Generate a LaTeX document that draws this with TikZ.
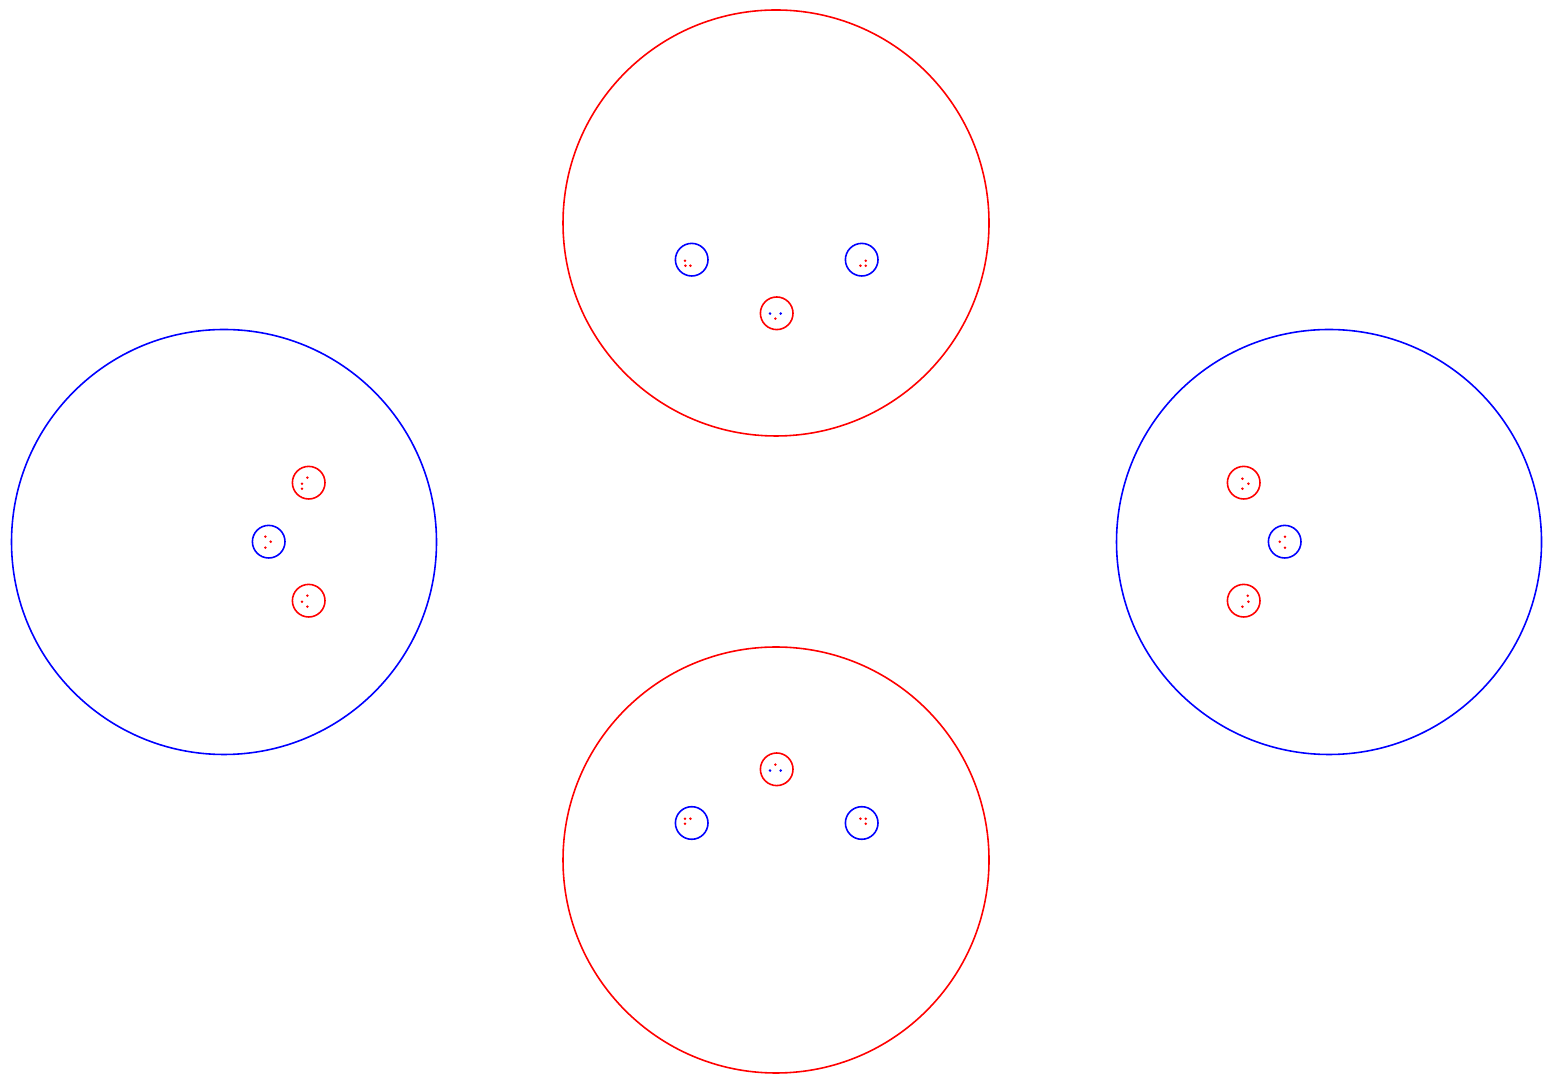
\documentclass[tikz,border=0pt]{standalone}
\usetikzlibrary{positioning,calc}
\begin{document}
\begin{tikzpicture}[x=0.01cm, y=-0.01cm,
    bigring/.style={line width=0.45pt},
    smallring/.style={line width=0.45pt},
    spot/.style={radius=1.4}]
  \useasboundingbox (0,0) rectangle (1543,1077);
  % outer rings
  \coordinate (top) at (776,223);
  \coordinate (bot) at (776,860);
  \coordinate (lft) at (224,542);
  \coordinate (rgt) at (1329,542);
  \draw[bigring, red] (top) circle[radius=213];
  \draw[bigring, red] (bot) circle[radius=213];
  \draw[bigring, blue] (lft) circle[radius=212.5];
  \draw[bigring, blue] (rgt) circle[radius=212.5];
  % inner rings: x/y/ring colour/name
  \foreach \x/\y/\c/\n in {691.7/259.7/blue/ta, 861.7/259.7/blue/tb, 776.7/313.3/red/tc,
      776.7/769.3/red/ba, 691.7/823/blue/bb, 861.7/823/blue/bc,
      308.7/482.7/red/la, 268.7/541.7/blue/lb, 308.7/600.7/red/lc,
      1243.7/482.7/red/ra, 1284.7/541.7/blue/rb, 1243.7/600.7/red/rc}{
    \coordinate (\n) at (\x,\y);
    \draw[smallring, \c] (\n) circle[radius=16.3];
  }
  % dots inside the inner rings
  \foreach \n/\dx/\dy/\c in {
      ta/-6.7/1/red, ta/-6.3/6/red, ta/-1.3/6/red,
      tb/4/1/red, tb/-1.3/6/red, tb/4/6/red,
      tc/-6.7/0.3/blue, tc/4/0.3/blue, tc/-1.3/5.3/red,
      ba/-1.3/-4.7/red, ba/-6.7/1.3/blue, ba/4/1.3/blue,
      bb/-6.7/-4.3/red, bb/-1.3/-4.3/red, bb/-6.7/0.7/red,
      bc/-1.3/-4.3/red, bc/4/-4.3/red, bc/4/0.7/red,
      la/-1.3/-5/red, la/-6.7/1/red, la/-6.7/6/red,
      lb/-3.3/-5/red, lb/2/0/red, lb/-3.3/6/red,
      lc/-1.3/-5/red, lc/-6.7/1/red, lc/-1.3/6/red,
      ra/-1.3/-4/red, ra/4.7/1/red, ra/-1.3/6/red,
      rb/0.3/-5/red, rb/-5/0/red, rb/0.3/6/red,
      rc/4/-5/red, rc/4.7/1/red, rc/-1.3/6/red}{
    \fill[\c] ($(\n)+(\dx,\dy)$) circle[spot];
  }
\end{tikzpicture}
\end{document}
